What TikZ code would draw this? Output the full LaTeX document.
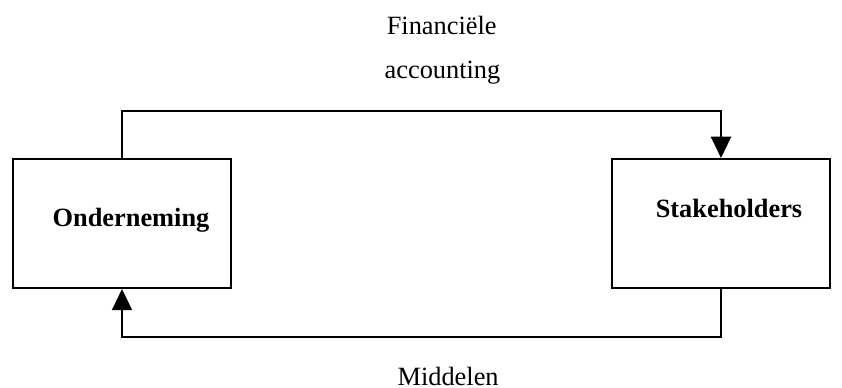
\documentclass[tikz,border=0pt]{standalone}
\usepackage{fontspec}
\setmainfont{Liberation Serif}
\usetikzlibrary{arrows.meta,positioning}

\begin{document}
\begin{tikzpicture}[>={Triangle[length=3.4mm,width=3.2mm]}, line width=0.9pt,
  every node/.style={font=\fontsize{12}{14}\selectfont}]

\useasboundingbox (0,0) rectangle (13.472,6.208);

\node[draw, minimum width=3.488cm, minimum height=2.064cm] (O) at (1.952,2.632) {};
\node[draw, minimum width=3.488cm, minimum height=2.064cm] (S) at (11.536,2.632) {};

\node[anchor=base, font=\fontsize{12}{14}\selectfont\bfseries] (Otxt) at (2.096,2.581) {Onderneming};
\node[anchor=base, font=\fontsize{12}{14}\selectfont\bfseries] (Stxt) at (11.664,2.731) {Stakeholders};

\node[anchor=base] (F) at (7.067,5.648) {Financiële};
\node[anchor=base] (A) at (7.08,4.944) {accounting};
\node[anchor=base] (M) at (7.17,0.04) {Middelen};

\coordinate (top) at (0,4.432);
\coordinate (bot) at (0,0.816);

\draw[->] (O.north) -- (O.north |- top) -| (S.north);
\draw[->] (S.south) -- (S.south |- bot) -| (O.south);

\end{tikzpicture}
\end{document}
